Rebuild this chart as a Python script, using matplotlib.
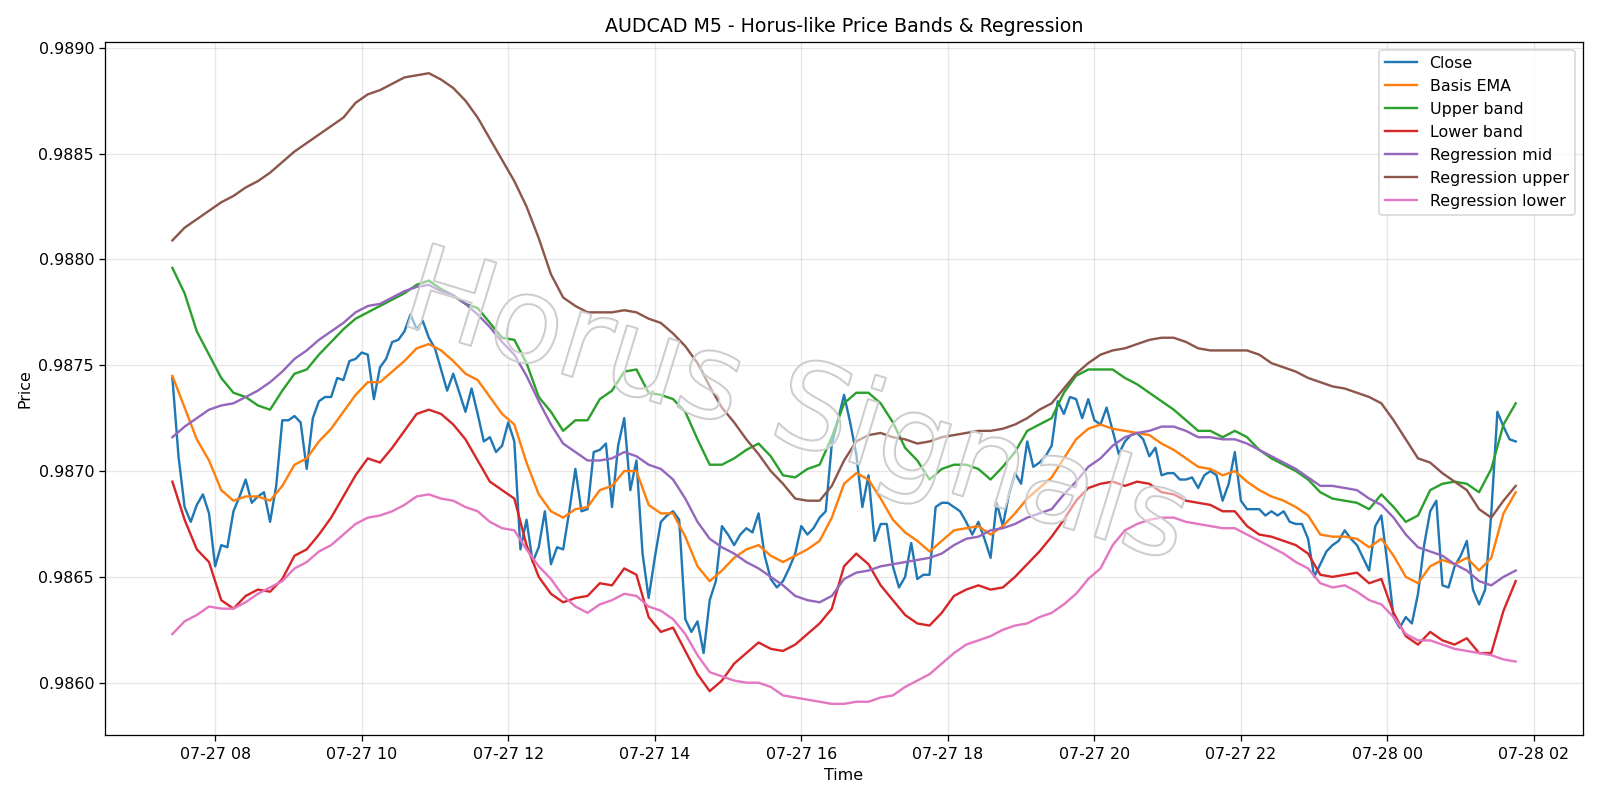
import matplotlib
matplotlib.use("Agg")
import matplotlib.pyplot as plt
import matplotlib.patheffects as pe
import pandas as pd

# ---------------- data ----------------
start_time = "2025-07-27 07:25"
bar_minutes = 5

close = [
    0.98744, 0.98707, 0.98683, 0.98676, 0.98684, 0.98689, 0.98680, 0.98655, 0.98665, 0.98664,
    0.98681, 0.98688, 0.98696, 0.98685, 0.98688, 0.98690, 0.98676, 0.98693, 0.98724, 0.98724,
    0.98726, 0.98723, 0.98701, 0.98725, 0.98733, 0.98735, 0.98735, 0.98744, 0.98743, 0.98752,
    0.98753, 0.98756, 0.98755, 0.98734, 0.98749, 0.98753, 0.98761, 0.98762, 0.98766, 0.98774,
    0.98767, 0.98771, 0.98763, 0.98758, 0.98748, 0.98738, 0.98746, 0.98737, 0.98728, 0.98739,
    0.98727, 0.98714, 0.98716, 0.98709, 0.98712, 0.98723, 0.98714, 0.98663, 0.98677, 0.98657,
    0.98664, 0.98681, 0.98656, 0.98664, 0.98663, 0.98681, 0.98701, 0.98681, 0.98682, 0.98709,
    0.98710, 0.98713, 0.98683, 0.98712, 0.98725, 0.98691, 0.98705, 0.98661, 0.98640, 0.98659,
    0.98676, 0.98679, 0.98681, 0.98677, 0.98630, 0.98624, 0.98629, 0.98614, 0.98639, 0.98648,
    0.98674, 0.98670, 0.98665, 0.98670, 0.98673, 0.98671, 0.98680, 0.98660, 0.98649, 0.98645,
    0.98648, 0.98654, 0.98661, 0.98674, 0.98670, 0.98673, 0.98678, 0.98681, 0.98713, 0.98724,
    0.98736, 0.98723, 0.98708, 0.98683, 0.98698, 0.98667, 0.98675, 0.98675, 0.98655, 0.98645,
    0.98650, 0.98666, 0.98649, 0.98651, 0.98651, 0.98683, 0.98685, 0.98685, 0.98683, 0.98681,
    0.98676, 0.98670, 0.98676, 0.98668, 0.98659, 0.98685, 0.98674, 0.98689, 0.98699, 0.98694,
    0.98714, 0.98702, 0.98704, 0.98707, 0.98712, 0.98733, 0.98727, 0.98735, 0.98734, 0.98725,
    0.98734, 0.98724, 0.98722, 0.98730, 0.98719, 0.98708, 0.98714, 0.98717, 0.98718, 0.98715,
    0.98707, 0.98711, 0.98698, 0.98699, 0.98699, 0.98696, 0.98696, 0.98697, 0.98692, 0.98698,
    0.98700, 0.98698, 0.98686, 0.98694, 0.98709, 0.98686, 0.98682, 0.98682, 0.98682, 0.98679,
    0.98681, 0.98679, 0.98681, 0.98676, 0.98675, 0.98675, 0.98668, 0.98650, 0.98656, 0.98662,
    0.98665, 0.98667, 0.98672, 0.98668, 0.98665, 0.98659, 0.98653, 0.98674, 0.98679, 0.98656,
    0.98631, 0.98626, 0.98631, 0.98628, 0.98642, 0.98665, 0.98681, 0.98686, 0.98646, 0.98645,
    0.98655, 0.98660, 0.98667, 0.98644, 0.98637, 0.98644, 0.98680, 0.98728, 0.98721, 0.98715,
    0.98714,
]

# the smooth series were read at every second bar
line_step = 2

basis_ema = [
    0.98745, 0.98730, 0.98715, 0.98705, 0.98691, 0.98686, 0.98688, 0.98688, 0.98686, 0.98693,
    0.98703, 0.98706, 0.98714, 0.98720, 0.98728, 0.98736, 0.98742, 0.98742, 0.98747, 0.98752,
    0.98758, 0.98760, 0.98757, 0.98752, 0.98746, 0.98743, 0.98735, 0.98727, 0.98722, 0.98704,
    0.98689, 0.98681, 0.98678, 0.98682, 0.98683, 0.98691, 0.98693, 0.98700, 0.98700, 0.98684,
    0.98680, 0.98680, 0.98669, 0.98655, 0.98648, 0.98653, 0.98659, 0.98663, 0.98665, 0.98660,
    0.98657, 0.98660, 0.98663, 0.98667, 0.98678, 0.98694, 0.98699, 0.98696, 0.98687, 0.98677,
    0.98671, 0.98667, 0.98662, 0.98667, 0.98672, 0.98673, 0.98674, 0.98670, 0.98674, 0.98680,
    0.98687, 0.98692, 0.98697, 0.98706, 0.98715, 0.98720, 0.98722, 0.98720, 0.98719, 0.98718,
    0.98717, 0.98713, 0.98710, 0.98706, 0.98702, 0.98701, 0.98698, 0.98700, 0.98695, 0.98691,
    0.98688, 0.98686, 0.98683, 0.98679, 0.98670, 0.98669, 0.98669, 0.98668, 0.98664, 0.98668,
    0.98660, 0.98650, 0.98647, 0.98655, 0.98658, 0.98656, 0.98659, 0.98653, 0.98659, 0.98680,
    0.98690,
]
upper_band = [
    0.98796, 0.98784, 0.98766, 0.98755, 0.98744, 0.98737, 0.98735, 0.98731, 0.98729, 0.98738,
    0.98746, 0.98748, 0.98755, 0.98761, 0.98767, 0.98772, 0.98775, 0.98778, 0.98781, 0.98784,
    0.98788, 0.98790, 0.98786, 0.98783, 0.98779, 0.98777, 0.98770, 0.98763, 0.98762, 0.98751,
    0.98735, 0.98728, 0.98719, 0.98724, 0.98724, 0.98734, 0.98738, 0.98747, 0.98748, 0.98737,
    0.98736, 0.98734, 0.98728, 0.98715, 0.98703, 0.98703, 0.98706, 0.98710, 0.98713, 0.98707,
    0.98698, 0.98697, 0.98701, 0.98703, 0.98716, 0.98732, 0.98737, 0.98737, 0.98732, 0.98723,
    0.98711, 0.98705, 0.98696, 0.98701, 0.98703, 0.98703, 0.98701, 0.98696, 0.98702, 0.98709,
    0.98719, 0.98722, 0.98725, 0.98737, 0.98745, 0.98748, 0.98748, 0.98748, 0.98744, 0.98741,
    0.98737, 0.98733, 0.98729, 0.98724, 0.98719, 0.98719, 0.98716, 0.98719, 0.98716, 0.98710,
    0.98706, 0.98703, 0.98700, 0.98696, 0.98690, 0.98687, 0.98686, 0.98685, 0.98682, 0.98689,
    0.98683, 0.98676, 0.98679, 0.98691, 0.98694, 0.98695, 0.98694, 0.98690, 0.98701, 0.98722,
    0.98732,
]
lower_band = [
    0.98695, 0.98677, 0.98663, 0.98657, 0.98639, 0.98635, 0.98641, 0.98644, 0.98643, 0.98649,
    0.98660, 0.98663, 0.98670, 0.98678, 0.98688, 0.98698, 0.98706, 0.98704, 0.98711, 0.98719,
    0.98727, 0.98729, 0.98727, 0.98722, 0.98715, 0.98705, 0.98695, 0.98691, 0.98687, 0.98665,
    0.98650, 0.98642, 0.98638, 0.98640, 0.98641, 0.98647, 0.98646, 0.98654, 0.98651, 0.98631,
    0.98624, 0.98626, 0.98615, 0.98604, 0.98596, 0.98601, 0.98609, 0.98614, 0.98619, 0.98616,
    0.98615, 0.98618, 0.98623, 0.98628, 0.98635, 0.98655, 0.98661, 0.98656, 0.98646, 0.98639,
    0.98632, 0.98628, 0.98627, 0.98633, 0.98641, 0.98644, 0.98646, 0.98644, 0.98645, 0.98650,
    0.98656, 0.98662, 0.98669, 0.98677, 0.98686, 0.98692, 0.98694, 0.98695, 0.98693, 0.98695,
    0.98694, 0.98690, 0.98689, 0.98686, 0.98685, 0.98684, 0.98681, 0.98681, 0.98674, 0.98670,
    0.98669, 0.98667, 0.98665, 0.98661, 0.98651, 0.98650, 0.98651, 0.98652, 0.98647, 0.98649,
    0.98633, 0.98622, 0.98618, 0.98624, 0.98620, 0.98618, 0.98621, 0.98614, 0.98614, 0.98634,
    0.98648,
]
reg_mid = [
    0.98716, 0.98721, 0.98725, 0.98729, 0.98731, 0.98732, 0.98735, 0.98738, 0.98742, 0.98747,
    0.98753, 0.98757, 0.98762, 0.98766, 0.98770, 0.98775, 0.98778, 0.98779, 0.98782, 0.98785,
    0.98787, 0.98788, 0.98785, 0.98783, 0.98779, 0.98774, 0.98768, 0.98761, 0.98755, 0.98745,
    0.98733, 0.98722, 0.98713, 0.98709, 0.98705, 0.98705, 0.98706, 0.98709, 0.98707, 0.98703,
    0.98701, 0.98696, 0.98687, 0.98676, 0.98668, 0.98664, 0.98661, 0.98657, 0.98654, 0.98650,
    0.98646, 0.98641, 0.98639, 0.98638, 0.98641, 0.98649, 0.98652, 0.98653, 0.98655, 0.98656,
    0.98657, 0.98658, 0.98659, 0.98661, 0.98665, 0.98668, 0.98669, 0.98672, 0.98673, 0.98675,
    0.98678, 0.98680, 0.98682, 0.98689, 0.98695, 0.98702, 0.98706, 0.98712, 0.98716, 0.98718,
    0.98719, 0.98721, 0.98721, 0.98719, 0.98716, 0.98716, 0.98715, 0.98715, 0.98713, 0.98710,
    0.98707, 0.98704, 0.98701, 0.98697, 0.98693, 0.98693, 0.98692, 0.98691, 0.98687, 0.98684,
    0.98678, 0.98670, 0.98664, 0.98662, 0.98660, 0.98656, 0.98653, 0.98648, 0.98646, 0.98650,
    0.98653,
]
reg_upper = [
    0.98809, 0.98815, 0.98819, 0.98823, 0.98827, 0.98830, 0.98834, 0.98837, 0.98841, 0.98846,
    0.98851, 0.98855, 0.98859, 0.98863, 0.98867, 0.98874, 0.98878, 0.98880, 0.98883, 0.98886,
    0.98887, 0.98888, 0.98885, 0.98881, 0.98875, 0.98867, 0.98857, 0.98847, 0.98837, 0.98825,
    0.98810, 0.98793, 0.98782, 0.98778, 0.98775, 0.98775, 0.98775, 0.98776, 0.98775, 0.98772,
    0.98770, 0.98765, 0.98759, 0.98751, 0.98740, 0.98730, 0.98723, 0.98715, 0.98708, 0.98700,
    0.98694, 0.98687, 0.98686, 0.98686, 0.98693, 0.98705, 0.98714, 0.98717, 0.98718, 0.98716,
    0.98715, 0.98713, 0.98714, 0.98716, 0.98717, 0.98718, 0.98719, 0.98719, 0.98720, 0.98722,
    0.98725, 0.98729, 0.98732, 0.98739, 0.98746, 0.98751, 0.98755, 0.98757, 0.98758, 0.98760,
    0.98762, 0.98763, 0.98763, 0.98761, 0.98758, 0.98757, 0.98757, 0.98757, 0.98757, 0.98755,
    0.98751, 0.98749, 0.98747, 0.98744, 0.98742, 0.98740, 0.98739, 0.98737, 0.98735, 0.98732,
    0.98724, 0.98715, 0.98706, 0.98704, 0.98699, 0.98695, 0.98691, 0.98682, 0.98678, 0.98686,
    0.98693,
]
reg_lower = [
    0.98623, 0.98629, 0.98632, 0.98636, 0.98635, 0.98635, 0.98638, 0.98642, 0.98645, 0.98648,
    0.98654, 0.98657, 0.98662, 0.98665, 0.98670, 0.98675, 0.98678, 0.98679, 0.98681, 0.98684,
    0.98688, 0.98689, 0.98687, 0.98686, 0.98683, 0.98681, 0.98676, 0.98673, 0.98672, 0.98663,
    0.98655, 0.98649, 0.98641, 0.98636, 0.98633, 0.98637, 0.98639, 0.98642, 0.98641, 0.98636,
    0.98634, 0.98630, 0.98623, 0.98613, 0.98605, 0.98603, 0.98601, 0.98600, 0.98600, 0.98598,
    0.98594, 0.98593, 0.98592, 0.98591, 0.98590, 0.98590, 0.98591, 0.98591, 0.98593, 0.98594,
    0.98598, 0.98601, 0.98604, 0.98609, 0.98614, 0.98618, 0.98620, 0.98622, 0.98625, 0.98627,
    0.98628, 0.98631, 0.98633, 0.98637, 0.98642, 0.98649, 0.98654, 0.98665, 0.98672, 0.98675,
    0.98677, 0.98678, 0.98678, 0.98676, 0.98675, 0.98674, 0.98673, 0.98673, 0.98670, 0.98667,
    0.98664, 0.98661, 0.98657, 0.98654, 0.98647, 0.98645, 0.98646, 0.98643, 0.98639, 0.98637,
    0.98631, 0.98623, 0.98620, 0.98620, 0.98618, 0.98616, 0.98615, 0.98614, 0.98613, 0.98611,
    0.98610,
]

labels = ["Close", "Basis EMA", "Upper band", "Lower band",
          "Regression mid", "Regression upper", "Regression lower"]
colors = ["#1f77b4", "#ff7f0e", "#2ca02c", "#d62728", "#9467bd", "#8c564b", "#e377c2"]
title = "AUDCAD M5 - Horus-like Price Bands & Regression"
watermark = "Horus Signals"

# ---------------- plot ----------------
times = pd.date_range(start_time, periods=len(close), freq=f"{bar_minutes}min")
line_times = times[::line_step]

fig, ax = plt.subplots(figsize=(14, 7), dpi=1600 / 14)
ax.plot(times, close, label=labels[0], color=colors[0], lw=1.5)
for series, lab, col in zip([basis_ema, upper_band, lower_band, reg_mid, reg_upper, reg_lower],
                            labels[1:], colors[1:]):
    ax.plot(line_times, series, label=lab, color=col, lw=1.5)

ax.set_title(title)
ax.set_xlabel("Time")
ax.set_ylabel("Price")
ax.grid(True, alpha=0.3)
ax.legend(loc="upper right")

fig.tight_layout()

fig.text(0.497, 0.487, watermark, fontsize=75, rotation=-17,
         ha="center", va="center", rotation_mode="anchor",
         color=(1, 1, 1, 0.3), zorder=10,
         path_effects=[pe.withStroke(linewidth=1.3, foreground="#c6c6c6")])

fig.savefig("out.png", dpi=1600 / 14)
